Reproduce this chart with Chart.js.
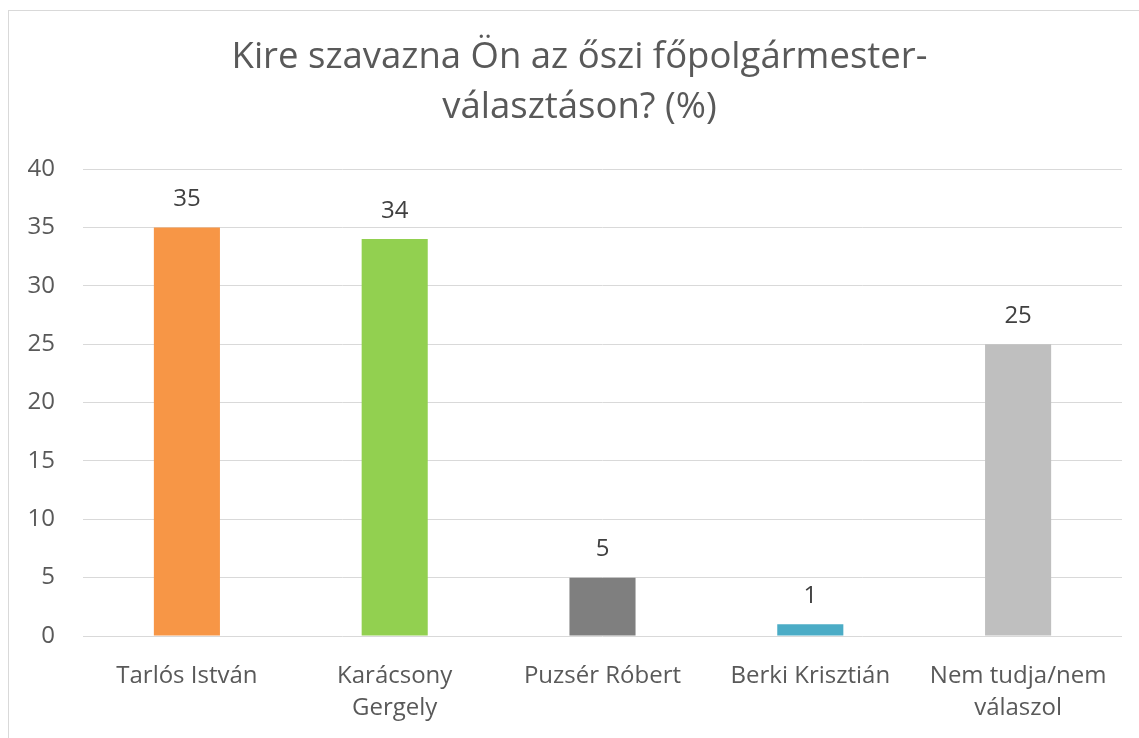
<!DOCTYPE html>
<html>
<head>
<meta charset="utf-8">
<script src="https://cdn.jsdelivr.net/npm/chart.js@4/dist/chart.umd.min.js"></script>
<style>
  html, body { margin: 0; padding: 0; background: #fff; overflow: hidden; }
  body { width: 1139px; height: 738px; position: relative; }
  #frame { position: absolute; left: 8px; top: 10px; width: 1143px; height: 740px;
           border-top: 1px solid #d9d9d9; border-left: 1px solid #d9d9d9; box-sizing: border-box; }
  #wrap { position: absolute; left: 9px; top: 11px; width: 1142px; height: 727px; }
</style>
</head>
<body>
<div id="frame"></div>
<div id="wrap"><canvas id="c"></canvas></div>
<script>
const titleLines = ['Kire szavazna Ön az őszi főpolgármester-', 'választáson? (%)'];
const categories = [['Tarlós István'], ['Karácsony', 'Gergely'], ['Puzsér Róbert'], ['Berki Krisztián'], ['Nem tudja/nem', 'válaszol']];
const values = [35, 34, 5, 1, 25];
const barColors = ['#F79646', '#92D050', '#7F7F7F', '#4BACC6', '#BFBFBF'];
const yTicks = { min: 0, max: 40, step: 5 };

const FONT = '"Open Sans", "Noto Sans", sans-serif';

const valueLabels = {
  id: 'valueLabels',
  afterDatasetsDraw(chart) {
    const ctx = chart.ctx;
    const meta = chart.getDatasetMeta(0);
    ctx.save();
    ctx.font = '24px ' + FONT;
    ctx.fillStyle = '#404040';
    ctx.textAlign = 'center';
    ctx.textBaseline = 'middle';
    meta.data.forEach((bar, i) => {
      ctx.fillText(String(values[i]), bar.x, bar.y - 28);
    });
    ctx.restore();
  }
};

// centre the title over the whole frame rather than the padded area
const titleShift = {
  id: 'titleShift',
  afterLayout(chart) {
    if (chart.titleBlock) { chart.titleBlock.left += 5; chart.titleBlock.right += 5; }
  }
};

new Chart(document.getElementById('c'), {
  type: 'bar',
  data: {
    labels: categories,
    datasets: [{
      data: values,
      backgroundColor: barColors,
      borderWidth: 0,
      barPercentage: 0.318,
      categoryPercentage: 1.0
    }]
  },
  options: {
    responsive: true,
    maintainAspectRatio: false,
    animation: false,
    devicePixelRatio: 1,
    layout: { padding: { left: 18, right: 29, top: 0, bottom: 14 } },
    plugins: {
      legend: { display: false },
      tooltip: { enabled: false },
      title: {
        display: true,
        text: titleLines,
        color: '#595959',
        font: { family: FONT, size: 36.5, weight: 'normal', lineHeight: 1.37 },
        padding: { top: 22, bottom: 36 }
      }
    },
    scales: {
      x: {
        grid: { display: false, drawTicks: false },
        border: { display: false },
        afterFit(scale) { scale.paddingLeft = 0; scale.paddingRight = 0; scale.height = 88; },
        ticks: {
          color: '#595959',
          font: { family: FONT, size: 24, lineHeight: 1.33 },
          padding: 24,
          maxRotation: 0,
          autoSkip: false
        }
      },
      y: {
        min: yTicks.min,
        max: yTicks.max,
        grid: { color: '#d9d9d9', lineWidth: 1, drawTicks: false },
        border: { display: false },
        afterFit(scale) { scale.width = 56; },
        ticks: {
          stepSize: yTicks.step,
          color: '#595959',
          font: { family: FONT, size: 24 },
          padding: 28
        }
      }
    }
  },
  plugins: [valueLabels, titleShift]
});
</script>
</body>
</html>
